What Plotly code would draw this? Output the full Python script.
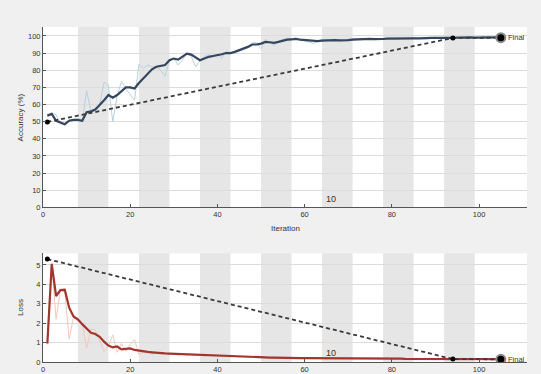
import plotly.graph_objects as go

iterations = list(range(1, 106))
iters_per_epoch = 7
num_epochs = 15
epoch_label = "10"
epoch_label_iter = 64.5

acc_smooth = [53.5, 54.5, 50.5, 49.5, 48.5, 50.5, 51, 51, 50.5, 55.5,
              56, 57, 59.5, 62.5, 65.5, 64, 65.5, 68, 70, 70,
              69.3, 72.5, 75, 77.5, 80.5, 82, 82.5, 83, 85.8, 86.8,
              86.2, 87.8, 89.7, 89.1, 87.4, 85.8, 86.8, 87.8, 88.3, 88.7,
              89.3, 90, 90, 90.7, 91.6, 92.6, 93.6, 95, 95, 95.5,
              96.5, 96.3, 96.0, 96.5, 97.3, 97.8, 98, 98.2, 97.8, 97.5,
              97.2, 96.9, 97.0, 97.3, 97.5, 97.5, 97.6, 97.4, 97.3, 97.5,
              97.8, 98.0, 98.2, 98.2, 98.3, 98.1, 98.0, 98.2, 98.4, 98.5,
              98.4, 98.3, 98.4, 98.5, 98.6, 98.6, 98.5, 98.7, 98.8, 98.7,
              98.6, 98.8, 98.9, 99.0, 98.9, 98.9, 99.0, 99.1, 99.0, 99.0,
              99.1, 99.2, 99.1, 99.2, 99.2]

acc_raw = [53, 55, 54, 49, 48, 51, 51, 51.5, 50, 68,
           56, 57, 60, 73, 71, 50, 65, 73.5, 69, 66,
           62.5, 83.5, 81, 83, 82, 82, 80, 76.5, 86, 87,
           83, 86, 90, 88, 82, 85.5, 88, 89, 88, 89.5,
           87, 91, 90, 91, 92, 93, 94, 96, 96, 92.5,
           98, 96, 94.5, 97, 98, 98.5, 98, 99.2, 97.5, 97,
           96.5, 95.5, 97, 98, 97.8, 97.5, 98, 97, 97.2, 98,
           98.5, 98.3, 98.6, 98, 98.5, 97.8, 98, 98.6, 98.8, 98.5,
           98.2, 98.4, 98.6, 98.7, 98.8, 98.4, 98.5, 99, 98.9, 98.5,
           98.6, 99, 99.1, 99.2, 98.8, 99, 99.2, 99.3, 98.9, 99.1,
           99.3, 99.4, 99, 99.3, 99.2]

loss_smooth = [0.95, 5.05, 3.40, 3.70, 3.72, 2.80, 2.35, 2.20, 1.95, 1.72,
               1.50, 1.44, 1.30, 1.05, 0.85, 0.75, 0.80, 0.65, 0.66, 0.70,
               0.62, 0.58, 0.55, 0.52, 0.50, 0.47, 0.45, 0.44, 0.43, 0.42,
               0.40, 0.39, 0.38, 0.37, 0.36, 0.35, 0.34, 0.33, 0.32, 0.32,
               0.31, 0.30, 0.29, 0.28, 0.27, 0.27, 0.26, 0.25, 0.25, 0.24,
               0.24, 0.23, 0.23, 0.22, 0.22, 0.21, 0.21, 0.21, 0.20, 0.20,
               0.20, 0.20, 0.19, 0.19, 0.19, 0.19, 0.19, 0.18, 0.18, 0.18,
               0.18, 0.18, 0.18, 0.18, 0.17, 0.17, 0.17, 0.17, 0.17, 0.17,
               0.17, 0.17, 0.16, 0.16, 0.16, 0.16, 0.16, 0.16, 0.16, 0.16,
               0.16, 0.15, 0.15, 0.15, 0.15, 0.15, 0.15, 0.15, 0.15, 0.15,
               0.15, 0.15, 0.15, 0.15, 0.15]

loss_raw = [0.90, 5.10, 2.20, 3.75, 3.60, 1.20, 2.30, 2.10, 2.00, 0.70,
            1.70, 1.65, 1.10, 0.55, 0.80, 1.40, 0.50, 0.95, 0.55, 0.90,
            1.15, 0.40, 0.50, 0.55, 0.40, 0.48, 0.40, 0.46, 0.38, 0.42,
            0.36, 0.42, 0.35, 0.38, 0.33, 0.36, 0.31, 0.35, 0.30, 0.33,
            0.29, 0.32, 0.27, 0.30, 0.25, 0.28, 0.24, 0.27, 0.23, 0.26,
            0.22, 0.25, 0.21, 0.24, 0.20, 0.23, 0.19, 0.22, 0.19, 0.21,
            0.18, 0.21, 0.18, 0.20, 0.17, 0.20, 0.17, 0.19, 0.17, 0.19,
            0.16, 0.19, 0.17, 0.18, 0.16, 0.18, 0.16, 0.18, 0.16, 0.17,
            0.16, 0.17, 0.15, 0.17, 0.15, 0.17, 0.15, 0.16, 0.15, 0.16,
            0.15, 0.16, 0.14, 0.16, 0.14, 0.15, 0.14, 0.15, 0.14, 0.15,
            0.14, 0.15, 0.14, 0.15, 0.14]

val_iters = [1, 94, 105]
val_acc = [49.8, 98.8, 99.0]
val_loss = [5.3, 0.15, 0.14]

FONT = "Liberation Sans, Arial, sans-serif"
TXT = "#333333"

fig = go.Figure()

# accuracy
fig.add_trace(go.Scatter(x=iterations, y=acc_raw, mode="lines",
                         line=dict(color="#b9cfe2", width=1), xaxis="x", yaxis="y"))
fig.add_trace(go.Scatter(x=iterations, y=acc_smooth, mode="lines",
                         line=dict(color="#34475f", width=2.2), xaxis="x", yaxis="y"))
fig.add_trace(go.Scatter(x=val_iters, y=val_acc, mode="lines+markers",
                         line=dict(color="#3a3a3a", width=1.8, dash="4px,3px"),
                         marker=dict(color="black", size=5), xaxis="x", yaxis="y"))
fig.add_trace(go.Scatter(x=val_iters[-1:], y=val_acc[-1:], mode="markers",
                         marker=dict(color="black", size=9, line=dict(color="#8a8a8a", width=2)),
                         xaxis="x", yaxis="y"))

# loss
fig.add_trace(go.Scatter(x=iterations, y=loss_raw, mode="lines",
                         line=dict(color="#f1c9bb", width=1), xaxis="x2", yaxis="y2"))
fig.add_trace(go.Scatter(x=iterations, y=loss_smooth, mode="lines",
                         line=dict(color="#a2352e", width=2.2), xaxis="x2", yaxis="y2"))
fig.add_trace(go.Scatter(x=val_iters, y=val_loss, mode="lines+markers",
                         line=dict(color="#3a3a3a", width=1.8, dash="4px,3px"),
                         marker=dict(color="black", size=5), xaxis="x2", yaxis="y2"))
fig.add_trace(go.Scatter(x=val_iters[-1:], y=val_loss[-1:], mode="markers",
                         marker=dict(color="black", size=9, line=dict(color="#8a8a8a", width=2)),
                         xaxis="x2", yaxis="y2"))

shapes = []
for k in range(2, num_epochs + 1, 2):
    x0 = 1 + iters_per_epoch * (k - 1)
    x1 = 1 + iters_per_epoch * k
    for xr, yr in (("x", "y domain"), ("x2", "y2 domain")):
        shapes.append(dict(type="rect", xref=xr, yref=yr, x0=x0, x1=x1, y0=0, y1=1,
                           fillcolor="#e6e6e6", line=dict(width=0), layer="below"))

axis_common = dict(showline=True, linecolor="#555555", linewidth=1, ticks="inside",
                   ticklen=3, tickcolor="#555555", tickfont=dict(family=FONT, size=7.5, color=TXT),
                   zeroline=False, mirror=False, automargin=False)

fig.update_layout(
    width=541, height=374,
    margin=dict(l=43, r=14, t=27, b=12),
    paper_bgcolor="#f0f0f0", plot_bgcolor="white",
    showlegend=False,
    hovermode=False,
    shapes=shapes,
    xaxis=dict(domain=[0, 1], range=[0, 111], tickvals=[0, 20, 40, 60, 80, 100],
               showgrid=False, anchor="y", **axis_common),
    yaxis=dict(domain=[0.4618, 1], range=[0, 105.2], tickvals=list(range(0, 101, 10)),
               showgrid=True, gridcolor="#dcdcdc", gridwidth=1, anchor="x", **axis_common),
    xaxis2=dict(domain=[0, 1], range=[0, 111], tickvals=[0, 20, 40, 60, 80, 100],
                showgrid=False, anchor="y2", **axis_common),
    yaxis2=dict(domain=[0, 0.3245], range=[0, 5.6], tickvals=[0, 1, 2, 3, 4, 5],
                showgrid=True, gridcolor="#dcdcdc", gridwidth=1, anchor="x2", **axis_common),
    annotations=[
        dict(text="Accuracy (%)", xref="paper", yref="y domain", x=-0.047, y=0.5,
             textangle=-90, showarrow=False, xanchor="center", yanchor="middle",
             font=dict(family=FONT, size=8, color=TXT)),
        dict(text="Loss", xref="paper", yref="y2 domain", x=-0.047, y=0.5,
             textangle=-90, showarrow=False, xanchor="center", yanchor="middle",
             font=dict(family=FONT, size=8, color=TXT)),
        dict(text="Iteration", xref="paper", yref="paper", x=0.5, y=0.4618, yshift=-21,
             showarrow=False, xanchor="center", yanchor="middle",
             font=dict(family=FONT, size=8, color=TXT)),
        dict(text="Final", xref="x", yref="y", x=val_iters[-1], y=val_acc[-1], xshift=5,
             showarrow=False, xanchor="left", yanchor="middle",
             font=dict(family=FONT, size=7.5, color=TXT)),
        dict(text="Final", xref="x2", yref="y2", x=val_iters[-1], y=val_loss[-1], xshift=5,
             showarrow=False, xanchor="left", yanchor="middle",
             font=dict(family=FONT, size=7.5, color=TXT)),
        dict(text=epoch_label, xref="x", yref="y", x=epoch_label_iter, y=4.8,
             showarrow=False, xanchor="left", yanchor="middle",
             font=dict(family=FONT, size=9, color=TXT)),
        dict(text=epoch_label, xref="x2", yref="y2", x=epoch_label_iter, y=0.45,
             showarrow=False, xanchor="left", yanchor="middle",
             font=dict(family=FONT, size=9, color=TXT)),
    ],
)

fig.write_html(
    "out.html",
    config={"displayModeBar": False, "staticPlot": True},
    post_script="document.body.style.margin='0';document.body.style.overflow='hidden';"
                "document.body.style.background='#f0f0f0';",
)
